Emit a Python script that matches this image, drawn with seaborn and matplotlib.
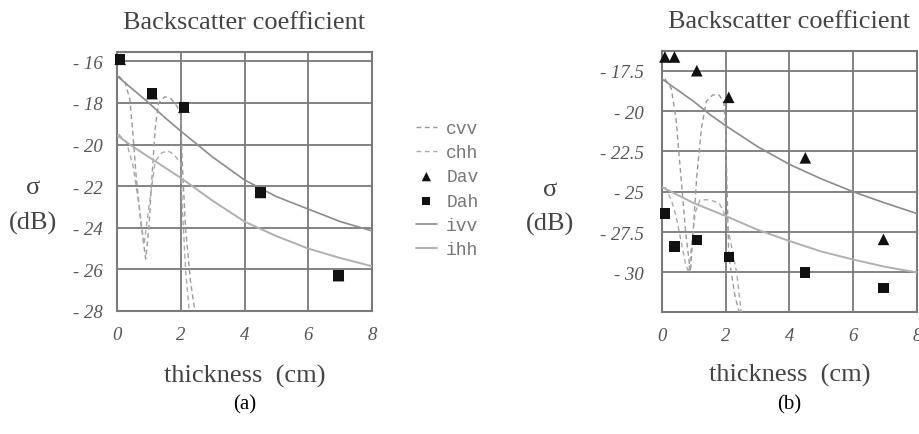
import matplotlib
matplotlib.use("Agg")
import matplotlib.pyplot as plt
import seaborn as sns

# ---------------- data ----------------
model_x = [0, 0.5, 1, 1.5, 2, 3, 4, 5, 6, 7, 8]

# panel (a)
a_ivv = [-16.7, -17.35, -18.0, -18.7, -19.35, -20.6, -21.7, -22.5, -23.1, -23.7, -24.15]
a_ihh = [-19.55, -20.1, -20.6, -21.1, -21.6, -22.7, -23.7, -24.4, -25.0, -25.45, -25.85]
a_cvv_x = [0.05, 0.25, 0.4, 0.5, 0.6, 0.75, 0.9, 1.0, 1.1, 1.2, 1.3, 1.5, 1.7, 1.9, 2.0, 2.05, 2.15, 2.3, 2.5]
a_cvv_y = [-16.7, -17.0, -17.8, -19.5, -21.5, -23.8, -25.5, -24.0, -21.5, -19.2, -18.0, -17.7, -17.8, -18.2, -18.6, -21.0, -24.0, -26.5, -28.6]
a_chh_x = [0.05, 0.3, 0.5, 0.7, 0.85, 1.0, 1.2, 1.4, 1.6, 1.8, 2.0, 2.05, 2.15, 2.3]
a_chh_y = [-19.5, -19.9, -21.0, -23.0, -24.8, -23.0, -20.8, -20.4, -20.3, -20.5, -20.9, -23.0, -26.0, -28.6]
a_meas_x = [0.1, 1.1, 2.1, 4.5, 6.95]
a_dav = [-15.9, -17.55, -18.2, -22.3, -26.3]
a_dah = [-15.9, -17.55, -18.2, -22.3, -26.3]

# panel (b)
b_ivv = [-18.0, -18.7, -19.4, -20.2, -20.9, -22.2, -23.3, -24.2, -25.0, -25.7, -26.35]
b_ihh = [-24.7, -25.2, -25.7, -26.1, -26.5, -27.35, -28.05, -28.7, -29.2, -29.65, -30.0]
b_cvv_x = [0.1, 0.3, 0.45, 0.6, 0.75, 0.9, 1.0, 1.1, 1.25, 1.4, 1.6, 1.8, 1.95, 2.0, 2.05, 2.1, 2.3, 2.45]
b_cvv_y = [-18.0, -18.6, -20.5, -24.0, -27.5, -30.0, -27.0, -24.0, -21.0, -19.4, -19.0, -19.0, -19.5, -21.0, -25.0, -29.0, -31.5, -32.6]
b_chh_x = [0.1, 0.3, 0.45, 0.6, 0.75, 0.85, 0.95, 1.05, 1.2, 1.5, 1.8, 2.0, 2.15, 2.35, 2.5]
b_chh_y = [-24.7, -25.5, -26.5, -28.0, -29.5, -30.0, -28.0, -26.3, -25.5, -25.5, -25.7, -26.5, -28.0, -30.0, -32.6]
b_meas_x = [0.1, 0.4, 1.1, 2.1, 4.5, 6.95]
b_dav = [-16.65, -16.65, -17.5, -19.15, -22.9, -27.95]
b_dah = [-26.35, -28.4, -28.0, -29.05, -30.0, -30.95]

x_ticks = [0, 2, 4, 6, 8]
x_ticklabels = ["0", "2", "4", "6", "8"]
a_yticks = [-16, -18, -20, -22, -24, -26, -28]
a_yticklabels = ["- 16", "- 18", "- 20", "- 22", "- 24", "- 26", "- 28"]
b_yticks = [-17.5, -20, -22.5, -25, -27.5, -30]
b_yticklabels = ["- 17.5", "- 20", "- 22.5", "- 25", "- 27.5", "- 30"]

legend_order = ["cvv", "chh", "Dav", "Dah", "ivv", "ihh"]

# ---------------- style ----------------
sns.set_theme(style="white")
plt.rcParams["font.family"] = ["Liberation Serif", "DejaVu Serif"]

GRID = "#7a7a7a"
DASH = "#9a9a9a"
IVV = "#8c8c8c"
IHH = "#b0b0b0"
TICK = "#555555"
TEXT = "#444444"

fig = plt.figure(figsize=(9.19, 4.35), dpi=100)
ax_a = fig.add_axes([117 / 919, 1 - 312 / 435, 255 / 919, 259 / 435])
ax_b = fig.add_axes([661.7 / 919, 1 - 313 / 435, 255.3 / 919, 261 / 435])


def draw(ax, cvv_x, cvv_y, chh_x, chh_y, ivv, ihh, mx, dav, dah):
    dash = (0, (3.5, 2.5))
    sns.lineplot(x=cvv_x, y=cvv_y, ax=ax, color=DASH, lw=1.0, linestyle=dash,
                 sort=False, estimator=None, label="cvv", zorder=3)
    sns.lineplot(x=chh_x, y=chh_y, ax=ax, color="#aaaaaa", lw=1.0, linestyle=dash,
                 sort=False, estimator=None, label="chh", zorder=3)
    sns.lineplot(x=model_x, y=ivv, ax=ax, color=IVV, lw=1.2,
                 sort=False, estimator=None, label="ivv", zorder=3)
    sns.lineplot(x=model_x, y=ihh, ax=ax, color=IHH, lw=1.4,
                 sort=False, estimator=None, label="ihh", zorder=3)
    sns.scatterplot(x=mx, y=dav, ax=ax, marker="^", s=70, color="#111111",
                    edgecolor="none", label="Dav", zorder=5, clip_on=False)
    sns.scatterplot(x=mx, y=dah, ax=ax, marker="s", s=55, color="#111111",
                    edgecolor="none", label="Dah", zorder=6, clip_on=False)
    if ax.get_legend() is not None:
        ax.get_legend().remove()
    ax.set_xlim(0, 8)
    ax.set_xticks(x_ticks)
    ax.set_xticklabels(x_ticklabels)
    ax.grid(True, color=GRID, lw=1.3, zorder=0)
    ax.set_axisbelow(True)
    for sp in ax.spines.values():
        sp.set_visible(True)
        sp.set_color(GRID)
        sp.set_linewidth(1.5)
    ax.tick_params(axis="both", length=0, labelsize=13.5, labelcolor=TICK)
    for lab in ax.get_xticklabels() + ax.get_yticklabels():
        lab.set_fontstyle("italic")
    ax.set_title("Backscatter coefficient", fontsize=19, color=TEXT, pad=17)
    ax.set_xlabel("thickness  (cm)", fontsize=19, color=TEXT)
    ax.xaxis.label.set_va("center")
    ax.set_ylabel("σ\n(dB)", fontsize=19, color=TEXT, rotation=0,
                  ha="center", va="center", linespacing=1.7)


draw(ax_a, a_cvv_x, a_cvv_y, a_chh_x, a_chh_y, a_ivv, a_ihh, a_meas_x, a_dav, a_dah)
ax_a.set_ylim(-28, -15.55)
ax_a.set_yticks(a_yticks)
ax_a.set_yticklabels(a_yticklabels, fontstyle="italic")
ax_a.tick_params(axis="y", pad=10)
ax_a.tick_params(axis="x", pad=11)
ax_a.xaxis.set_label_coords(0.5, -0.25)
ax_a.yaxis.set_label_coords(-0.33, 0.41)

draw(ax_b, b_cvv_x, b_cvv_y, b_chh_x, b_chh_y, b_ivv, b_ihh, b_meas_x, b_dav, b_dah)
ax_b.set_ylim(-32.45, -16.28)
ax_b.set_yticks(b_yticks)
ax_b.set_yticklabels(b_yticklabels, fontstyle="italic")
ax_b.tick_params(axis="y", pad=13)
ax_b.tick_params(axis="x", pad=11)
ax_b.xaxis.set_label_coords(0.5, -0.24)
ax_b.yaxis.set_label_coords(-0.4375, 0.404)

# legend between the panels
h, l = ax_a.get_legend_handles_labels()
hl = dict(zip(l, h))
leg = fig.legend([hl[k] for k in legend_order], legend_order,
                 loc="center", bbox_to_anchor=(447 / 919, 1 - 190 / 435),
                 frameon=False, prop={"family": "Liberation Mono", "size": 13},
                 handlelength=1.2, handletextpad=0.5, labelspacing=0.4,
                 markerscale=0.8)
for t in leg.get_texts():
    t.set_color("#777777")

fig.text(245 / 919, 1 - 405 / 435, "(a)", ha="center", va="center", fontsize=15, color="black")
fig.text(789 / 919, 1 - 405 / 435, "(b)", ha="center", va="center", fontsize=15, color="black")

fig.savefig("out.png", dpi=100)
